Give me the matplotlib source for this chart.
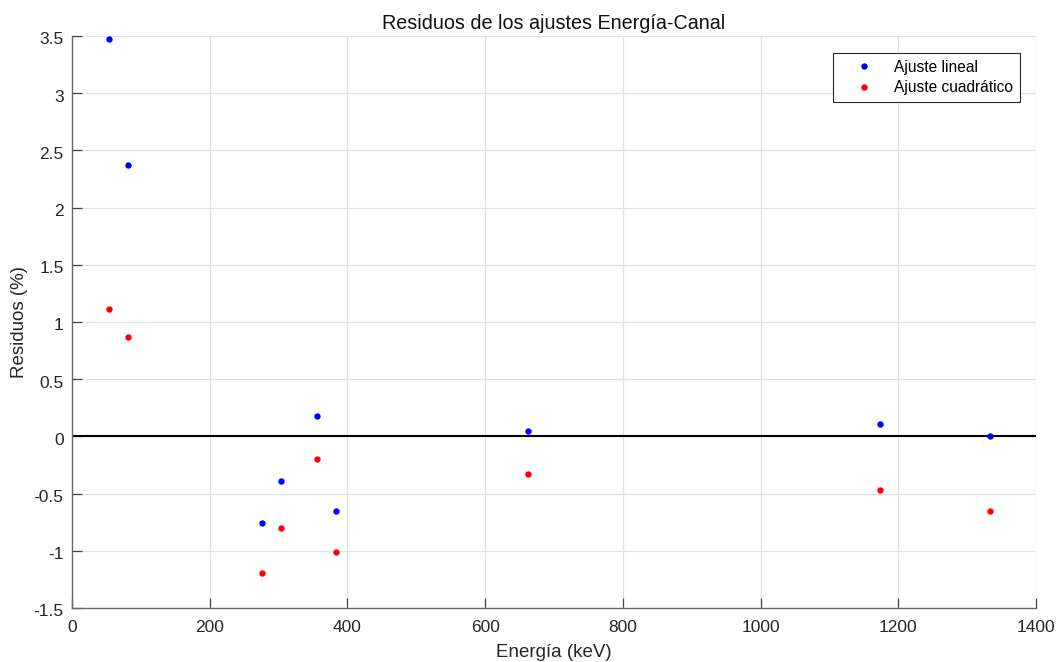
import matplotlib
matplotlib.use("Agg")
import matplotlib.pyplot as plt
from matplotlib.transforms import ScaledTranslation

plt.rcParams['font.family'] = ['Liberation Sans', 'DejaVu Sans']

# Gamma-line energies (keV) and fit residuals (%)
energia = [53.2, 81.0, 276.4, 302.9, 356.0, 383.8, 661.7, 1173.2, 1332.5]
res_lineal = [3.47, 2.37, -0.757, -0.392, 0.178, -0.649, 0.046, 0.108, 0.0]
res_cuadratico = [1.114, 0.872, -1.19, -0.80, -0.196, -1.01, -0.325, -0.465, -0.652]

xticks = [0, 200, 400, 600, 800, 1000, 1200, 1400]
yticks = [-1.5, -1, -0.5, 0, 0.5, 1, 1.5, 2, 2.5, 3, 3.5]
ytick_labels = ['-1.5', '-1', '-0.5', '0', '0.5', '1', '1.5', '2', '2.5', '3', '3.5']

W, H = 1057, 662
fig = plt.figure(figsize=(W / 100, H / 100), dpi=100)
ax = fig.add_axes([72 / W, 1 - 608 / H, (1036 - 72) / W, (608 - 36) / H])

ax.plot(energia, res_lineal, 'o', color='#0000ff', markersize=4.6,
        markeredgewidth=0, label='Ajuste lineal', zorder=3)
ax.plot(energia, res_cuadratico, 'o', color='#ff0000', markersize=4.6,
        markeredgewidth=0, label='Ajuste cuadrático', zorder=3)
ax.axhline(0, color='black', linewidth=1.5, zorder=2)

ax.set_xlim(0, 1400)
ax.set_ylim(-1.5, 3.5)
ax.set_xticks(xticks)
ax.set_yticks(yticks)
ax.set_yticklabels(ytick_labels)

ax.grid(True, color='#e2e2e2', linewidth=0.9)
ax.set_axisbelow(True)
for s in ('top', 'right'):
    ax.spines[s].set_visible(False)
for s in ('left', 'bottom'):
    ax.spines[s].set_color('#6a6a6a')
    ax.spines[s].set_linewidth(1.0)
ax.tick_params(direction='in', length=7, width=0.9, color='#444444',
               labelsize=12.5, labelcolor='#262626')
ax.tick_params(axis='x', pad=9)
ax.tick_params(axis='y', pad=6)

# y tick labels sit slightly below their ticks
shift = ScaledTranslation(0, -2.5 / 100, fig.dpi_scale_trans)
for lab in ax.get_yticklabels():
    lab.set_transform(lab.get_transform() + shift)

ax.set_title('Residuos de los ajustes Energía-Canal', fontsize=14.2,
             color='#111111', pad=4.8)
ax.set_xlabel('Energía (keV)', fontsize=13.5, color='#262626', va='baseline')
ax.xaxis.set_label_coords(0.5, (608 - 656.7) / (608 - 36))
ax.set_ylabel('Residuos (%)', fontsize=13.5, color='#262626', va='center')
ax.yaxis.set_label_coords((19 - 72) / (1036 - 72), 0.5)

fs = 11.2
leg = ax.legend(loc='upper right', bbox_to_anchor=(1020 / W, 1 - 53 / H),
                bbox_transform=fig.transFigure, fontsize=fs,
                fancybox=False, framealpha=1, edgecolor='#262626',
                borderpad=0.44, handletextpad=0.4, handlelength=3.09,
                labelspacing=0.35, borderaxespad=0)
leg.get_frame().set_linewidth(0.8)

fig.savefig('out.png', dpi=100, facecolor='white')
